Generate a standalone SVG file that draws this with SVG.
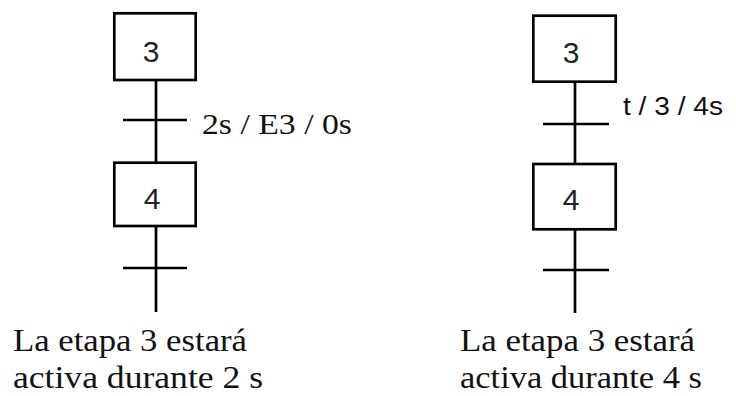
<svg xmlns="http://www.w3.org/2000/svg" width="736" height="396" viewBox="0 0 736 396">
<style>
.box{fill:#fff;stroke:#000;stroke-width:2.7}
.ln{stroke:#000;stroke-width:2.7;fill:none}
.num{font-size:30px;fill:#222;text-anchor:middle}
</style>
<rect width="736" height="396" fill="#fff"/>
<g id="connectors">
<line class="ln" x1="156" y1="80" x2="156" y2="163"/>
<line class="ln" x1="123" y1="120" x2="187" y2="120"/>
<line class="ln" x1="156" y1="226" x2="156" y2="312"/>
<line class="ln" x1="123" y1="268" x2="187" y2="268"/>
<line class="ln" x1="575" y1="82" x2="575" y2="164"/>
<line class="ln" x1="543" y1="124" x2="609" y2="124"/>
<line class="ln" x1="575" y1="229" x2="575" y2="313"/>
<line class="ln" x1="543" y1="270" x2="609" y2="270"/>
</g>
<g id="step3-left" font-family="Liberation Sans, Arial, sans-serif">
<rect class="box" x="114.3" y="13.3" width="81.4" height="66.7"/>
<text class="num" x="151" y="62">3</text>
</g>
<g id="step4-left" font-family="Liberation Sans, Arial, sans-serif">
<rect class="box" x="114.3" y="162.7" width="81.4" height="63.3"/>
<text class="num" x="152" y="209">4</text>
</g>
<g id="step3-right" font-family="Liberation Sans, Arial, sans-serif">
<rect class="box" x="533.3" y="15.7" width="82.4" height="66"/>
<text class="num" x="571" y="63">3</text>
</g>
<g id="step4-right" font-family="Liberation Sans, Arial, sans-serif">
<rect class="box" x="533.3" y="164" width="82.4" height="65.3"/>
<text class="num" x="571" y="210">4</text>
</g>
<g id="labels" fill="#111">
<text font-family="Liberation Serif, DejaVu Serif, serif" x="202" y="134" font-size="30" textLength="150" lengthAdjust="spacingAndGlyphs">2s / E3 / 0s</text>
<text font-family="Liberation Sans, Arial, sans-serif" x="623" y="115" font-size="26" textLength="100" lengthAdjust="spacingAndGlyphs">t / 3 / 4s</text>
<text font-family="Liberation Serif, DejaVu Serif, serif" x="13" y="351" font-size="32" textLength="234" lengthAdjust="spacingAndGlyphs">La etapa 3 estará</text>
<text font-family="Liberation Serif, DejaVu Serif, serif" x="13" y="388" font-size="32" textLength="250" lengthAdjust="spacingAndGlyphs">activa durante 2 s</text>
<text font-family="Liberation Serif, DejaVu Serif, serif" x="460" y="351" font-size="32" textLength="235" lengthAdjust="spacingAndGlyphs">La etapa 3 estará</text>
<text font-family="Liberation Serif, DejaVu Serif, serif" x="460" y="388" font-size="32" textLength="242" lengthAdjust="spacingAndGlyphs">activa durante 4 s</text>
</g>
</svg>
